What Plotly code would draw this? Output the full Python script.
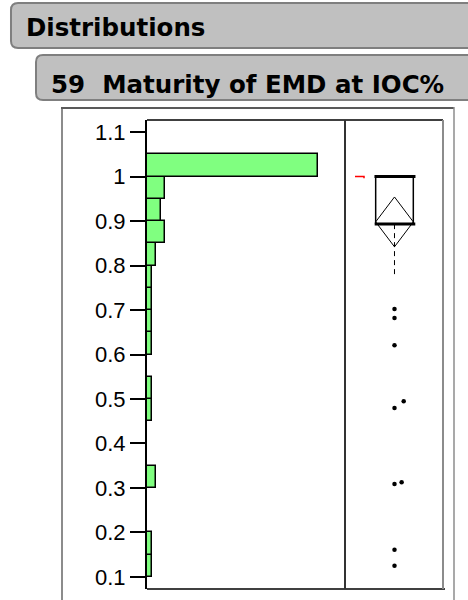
import plotly.graph_objects as go

# ---------------- data ----------------
bin_starts = [0.10, 0.15, 0.30, 0.45, 0.50, 0.60, 0.65, 0.70, 0.75, 0.80, 0.85, 0.90, 0.95, 1.00]
bin_counts = [1, 1, 2, 1, 1, 1, 1, 1, 1, 2, 4, 3, 4, 38]
bin_width = 0.05

y_ticks = [0.1, 0.2, 0.3, 0.4, 0.5, 0.6, 0.7, 0.8, 0.9, 1.0, 1.1]
y_tick_labels = ["0.1", "0.2", "0.3", "0.4", "0.5", "0.6", "0.7", "0.8", "0.9", "1", "1.1"]

q1 = 0.893
median = 1.0
q3 = 1.0
whisker_low = 0.774
mean = 0.898
mean_ci_low = 0.842
mean_ci_high = 0.954
shortest_half = [1.0, 1.0]
outliers = [0.702, 0.682, 0.621, 0.495, 0.480, 0.313, 0.309, 0.161, 0.125]
outlier_jitter = [0.0, 0.0, 0.0, 0.094, 0.0, 0.073, 0.0, 0.0, 0.0]

title_main = "Distributions"
title_var = "59  Maturity of EMD at IOC%"

# ---------------- layout geometry (pixels) ----------------
W, H = 468, 600
L, R, T, B = 147, 443, 120, 589
SPLIT = 345
PW, PH = R - L, B - T


def px(x):
    return (x - L) / PW


def py(y):
    return (B - y) / PH


def rounded_path(x0, y0, x1, y1, r):
    pts = [
        ("M", [(x0 + r, y0)]),
        ("L", [(x1 - r, y0)]),
        ("Q", [(x1, y0), (x1, y0 + r)]),
        ("L", [(x1, y1 - r)]),
        ("Q", [(x1, y1), (x1 - r, y1)]),
        ("L", [(x0 + r, y1)]),
        ("Q", [(x0, y1), (x0, y1 - r)]),
        ("L", [(x0, y0 + r)]),
        ("Q", [(x0, y0), (x0 + r, y0)]),
    ]
    s = ""
    for cmd, ps in pts:
        s += cmd + " " + " ".join(f"{px(a):.5f},{py(b):.5f}" for a, b in ps) + " "
    return s + "Z"


fig = go.Figure()

# histogram bars
bin_centers = [s + bin_width / 2 for s in bin_starts]
fig.add_trace(go.Bar(
    y=bin_centers, x=bin_counts, width=bin_width, orientation="h",
    marker=dict(color="#80FF80", line=dict(color="black", width=1.5)),
    xaxis="x", yaxis="y", showlegend=False, hoverinfo="skip",
))

bhw = 0.192  # box half width (panel units)
# box sides
for sx in (-bhw, bhw):
    fig.add_trace(go.Scatter(x=[sx, sx], y=[q1, q3], mode="lines",
                             line=dict(color="black", width=1.5),
                             xaxis="x2", yaxis="y", showlegend=False, hoverinfo="skip"))
# box quartile / median lines
for yy in (q1, median, q3):
    fig.add_trace(go.Scatter(x=[-bhw - 0.01, bhw + 0.02], y=[yy, yy], mode="lines",
                             line=dict(color="black", width=3),
                             xaxis="x2", yaxis="y", showlegend=False, hoverinfo="skip"))
# mean diamond
fig.add_trace(go.Scatter(x=[0, bhw, 0, -bhw, 0],
                         y=[mean_ci_high, mean, mean_ci_low, mean, mean_ci_high],
                         mode="lines", line=dict(color="black", width=1),
                         xaxis="x2", yaxis="y", showlegend=False, hoverinfo="skip"))
# lower whisker (dashed)
fig.add_trace(go.Scatter(x=[0, 0], y=[q1, whisker_low], mode="lines",
                         line=dict(color="black", width=1, dash="5px,4px"),
                         xaxis="x2", yaxis="y", showlegend=False, hoverinfo="skip"))
# shortest half bracket
fig.add_trace(go.Scatter(x=[-0.403, -0.311, -0.311], y=[shortest_half[0], shortest_half[1], shortest_half[1] - 0.004],
                         mode="lines", line=dict(color="red", width=1.5),
                         xaxis="x2", yaxis="y", showlegend=False, hoverinfo="skip"))
# outlier points
fig.add_trace(go.Scatter(x=outlier_jitter, y=outliers, mode="markers",
                         marker=dict(color="black", size=4.5),
                         xaxis="x2", yaxis="y", showlegend=False, hoverinfo="skip"))

shapes = []
# header boxes
shapes.append(dict(type="path", xref="paper", yref="paper",
                   path=rounded_path(11, 3, 480, 48, 7),
                   fillcolor="#C0C0C0", line=dict(color="#7F7F7F", width=2), layer="below"))
shapes.append(dict(type="path", xref="paper", yref="paper",
                   path=rounded_path(36, 55, 480, 100, 7),
                   fillcolor="#C0C0C0", line=dict(color="#7F7F7F", width=2), layer="below"))


def line(x0, y0, x1, y1, color, width):
    shapes.append(dict(type="line", xref="paper", yref="paper",
                       x0=px(x0), y0=py(y0), x1=px(x1), y1=py(y1),
                       line=dict(color=color, width=width)))


# outer frame
line(62, 108, 62, 605, "#8C8C8C", 2)
line(61, 108, 454, 108, "#5A5A5A", 2)
line(454, 107, 454, 605, "#8C8C8C", 1.5)
# plot frame
line(L, T, R, T, "black", 1.5)
line(L, B, R + 2, B, "black", 1.5)
line(SPLIT, T, SPLIT, B, "#333333", 2)
line(R, T, R, B, "#8C8C8C", 2)

annotations = [
    dict(text=f"<b>{title_main}</b>", xref="paper", yref="paper", x=px(24), y=py(28),
         xanchor="left", yanchor="middle", showarrow=False,
         font=dict(family="DejaVu Sans", size=24.5, color="black")),
    dict(text=f"<b>{title_var}</b>", xref="paper", yref="paper", x=px(49), y=py(84),
         xanchor="left", yanchor="middle", showarrow=False,
         font=dict(family="DejaVu Sans", size=24.5, color="black")),
]

fig.update_layout(
    width=W, height=H,
    margin=dict(l=L, r=W - R, t=T, b=H - B, pad=0),
    paper_bgcolor="white", plot_bgcolor="white",
    bargap=0,
    shapes=shapes, annotations=annotations,
    xaxis=dict(domain=[0, px(SPLIT)], range=[0, 44], showgrid=False, zeroline=False,
               showticklabels=False, ticks="", showline=False, fixedrange=True),
    xaxis2=dict(domain=[px(SPLIT), 1], range=[-0.505, 0.495], anchor="y", showgrid=False,
                zeroline=False, showticklabels=False, ticks="", showline=False),
    yaxis=dict(range=[0.073, 1.127], tickvals=y_ticks, ticktext=y_tick_labels,
               ticks="outside", ticklen=15, tickwidth=2, tickcolor="black",
               showline=True, linecolor="black", linewidth=2,
               showgrid=False, zeroline=False,
               tickfont=dict(family="Liberation Sans", size=22, color="black")),
)

fig.write_html("out.html", config={"displayModeBar": False},
               post_script="document.body.style.margin='0';document.body.style.overflow='hidden';")
